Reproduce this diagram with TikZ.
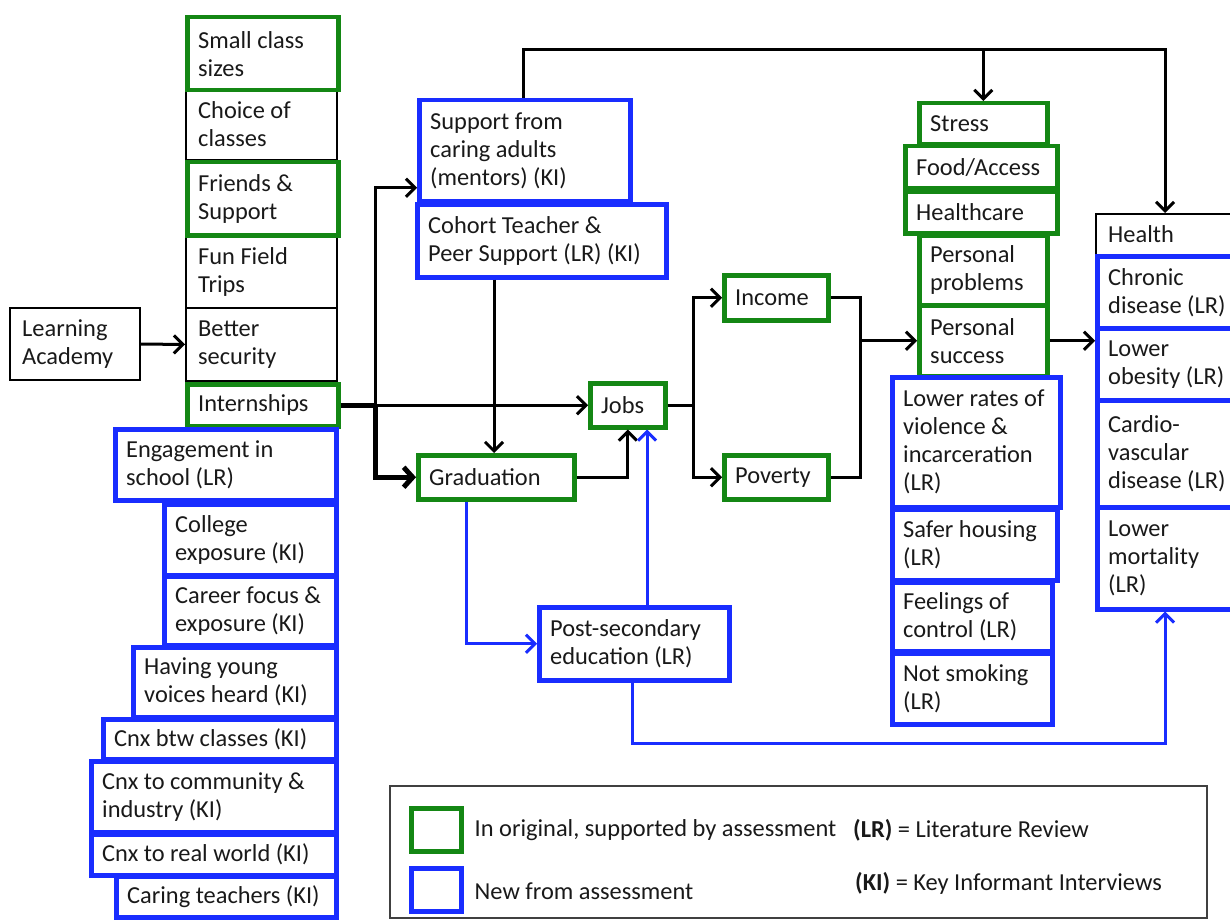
\documentclass[tikz,border=0pt]{standalone}
\usepackage{fontspec}
\setmainfont{Carlito}
\usetikzlibrary{arrows.meta,calc}
\definecolor{gbox}{RGB}{20,135,20}
\definecolor{bbox}{RGB}{25,45,255}
\tikzset{
  boxg/.style={draw=gbox, line width=4.5pt},
  boxb/.style={draw=bbox, line width=4.5pt},
  boxk/.style={draw=black, line width=2pt},
  txt/.style={anchor=west, align=left, inner sep=0pt, text=black!90, font=\fontsize{24.4}{28}\selectfont},
  legtxt/.style={anchor=west, inner sep=0pt, text=black!90, font=\fontsize{24.4}{28}\selectfont},
  conn/.style={draw=black, line width=3pt},
  thk/.style={draw=black, line width=5pt},
  arr/.style={conn, -{Straight Barb[length=9pt,width=18pt]}},
  tarr/.style={thk, -{Straight Barb[length=9pt,width=20pt]}},
  barr/.style={draw=bbox, line width=3pt, -{Straight Barb[length=9pt,width=18pt]}},
}
\newcommand\bx[7]{%
  \node[#6, minimum width={(#4-#2)*1pt}, minimum height={(#5-#3)*1pt}, anchor=north west, inner sep=0pt] (#1) at (#2,#3) {};
  \node[txt] at ([xshift=13pt]#1.west) {#7};}
\begin{document}
\begin{tikzpicture}[x=1pt,y=-1pt]
\useasboundingbox (0,0) rectangle (1230,920);
\clip (0,0) rectangle (1230,920);
% left column
\bx{cc}{185}{88}{336}{159}{boxk}{Choice of\\classes}
\bx{ff}{185}{234}{336}{307}{boxk}{Fun Field\\Trips}
\bx{bs}{185}{307}{336}{380}{boxk}{Better\\security}
\bx{la}{9}{307}{139}{379}{boxk}{Learning\\Academy}
\bx{sc}{185}{15}{336}{88}{boxg}{Small class\\sizes}
\bx{fs}{185}{160}{336}{233}{boxg}{Friends \&\\Support}
\bx{in}{185}{382}{336}{424}{boxg}{Internships}
\bx{eng}{113}{427}{334}{498}{boxb}{Engagement in\\school (LR)}
\bx{col}{162}{502}{334}{573}{boxb}{College\\exposure (KI)}
\bx{car}{162}{574}{334}{643}{boxb}{Career focus \&\\exposure (KI)}
\bx{hyv}{131}{645}{334}{715}{boxb}{Having young\\voices heard (KI)}
\bx{cbc}{101}{717}{334}{757}{boxb}{Cnx btw classes (KI)}
\bx{cci}{89}{759}{334}{830}{boxb}{Cnx to community \&\\industry (KI)}
\bx{crw}{89}{832}{334}{873}{boxb}{Cnx to real world (KI)}
\bx{ct}{114}{874}{334}{915}{boxb}{Caring teachers (KI)}
% middle
\bx{sup}{417}{98}{628}{199}{boxb}{Support from\\caring adults\\(mentors) (KI)}
\bx{coh}{415}{202}{664}{275}{boxb}{Cohort Teacher \&\\Peer Support (LR) (KI)}
\bx{jobs}{588}{381}{663}{425}{boxg}{Jobs}
\bx{inc}{722}{273}{826}{318}{boxg}{Income}
\bx{grad}{416}{453}{572}{497}{boxg}{Graduation}
\bx{pov}{722}{453}{826}{497}{boxg}{Poverty}
\bx{pse}{537}{605}{727}{678}{boxb}{Post-secondary\\education (LR)}
% right-middle
\bx{st}{917}{101}{1045}{142}{boxg}{Stress}
\bx{fa}{903}{144}{1055}{186}{boxg}{Food/Access}
\bx{hc}{903}{189}{1055}{231}{boxg}{Healthcare}
\bx{pp}{917}{233}{1045}{303}{boxg}{Personal\\problems}
\bx{ps}{917}{303}{1045}{374}{boxg}{Personal\\success}
\bx{lr}{890}{375}{1058}{505}{boxb}{Lower rates of\\violence \&\\incarceration\\(LR)}
\bx{sh}{890}{507}{1055}{578}{boxb}{Safer housing\\(LR)}
\bx{fc}{890}{580}{1050}{649}{boxb}{Feelings of\\control (LR)}
\bx{ns}{890}{651}{1050}{722}{boxb}{Not smoking\\(LR)}
% right
\bx{hl}{1095}{213}{1250}{254}{boxk}{Health}
\bx{chr}{1095}{254}{1250}{326}{boxb}{Chronic\\disease (LR)}
\bx{ob}{1095}{326}{1250}{398}{boxb}{Lower\\obesity (LR)}
\bx{cv}{1095}{398}{1250}{505}{boxb}{Cardio-\\vascular\\disease (LR)}
\bx{mort}{1095}{505}{1250}{607}{boxb}{Lower\\mortality\\(LR)}
% legend
\node[draw=black!75, line width=1.5pt, minimum width=817pt, minimum height=132pt, anchor=north west, inner sep=0pt] (leg) at (389,785) {};
\node[boxg, minimum width=50pt, minimum height=43pt, anchor=north west, inner sep=0pt] (lg) at (409,806) {};
\node[boxb, minimum width=50pt, minimum height=43pt, anchor=north west, inner sep=0pt] (lb) at (409,866) {};
\node[legtxt] (lgt) at ([xshift=11pt]lg.east) {In original, supported by assessment};
\node[legtxt] (lbt) at ([xshift=11pt, yshift=-1pt]lb.east) {New from assessment};
\node[legtxt] (llr) at (853,830) {\textbf{(LR)} = Literature Review};
\node[legtxt] (lki) at (855,883) {\textbf{(KI)} = Key Informant Interviews};
% connectors
\draw[arr] (la.east) -- (bs.west);
\coordinate (jx) at (375,0);
\draw[thk] (in.east) -- (in.east -| jx);
\draw[arr] (in.east -| jx) -- (jobs.west);
\draw[arr] (in.east -| jx) |- ([yshift=-37pt]sup.west);
\draw[tarr] (in.east -| jx) |- (grad.west);
\coordinate (cx) at (494,0);
\draw[arr] (coh.south -| cx) -- (grad.north -| cx);
\draw[arr] (grad.east) -| (jobs.south);
\coordinate (bx1) at (647,0);
\draw[barr] (pse.north -| bx1) -- (jobs.south -| bx1);
\coordinate (bx2) at (466,0);
\draw[barr] (grad.south -| bx2) |- (pse.west);
\coordinate (bx3) at (632,743);
\coordinate (bx4) at (1165,743);
\draw[barr] (pse.south -| bx3) -- (bx3) -- (bx4) -- (mort.south -| bx4);
\coordinate (jx2) at (693,0);
\draw[conn] (jobs.east) -- (jobs.east -| jx2);
\draw[arr] (jobs.east -| jx2) |- (inc.west);
\draw[arr] (jobs.east -| jx2) |- (pov.west);
\coordinate (jx3) at (860,0);
\draw[conn] (inc.east) -| (pov.east -| jx3) -- (pov.east);
\draw[arr] (ps.west -| jx3) -- (ps.west);
\draw[arr] (ps.east) -- (ps.east -| ob.west);
\coordinate (tl) at (523,50);
\coordinate (tr) at (1165,50);
\draw[arr] (sup.north -| tl) -- (tl) -- (tr) -- (hl.north -| tr);
\draw[arr] (st.north |- tl) -- (st.north);
\end{tikzpicture}
\end{document}
